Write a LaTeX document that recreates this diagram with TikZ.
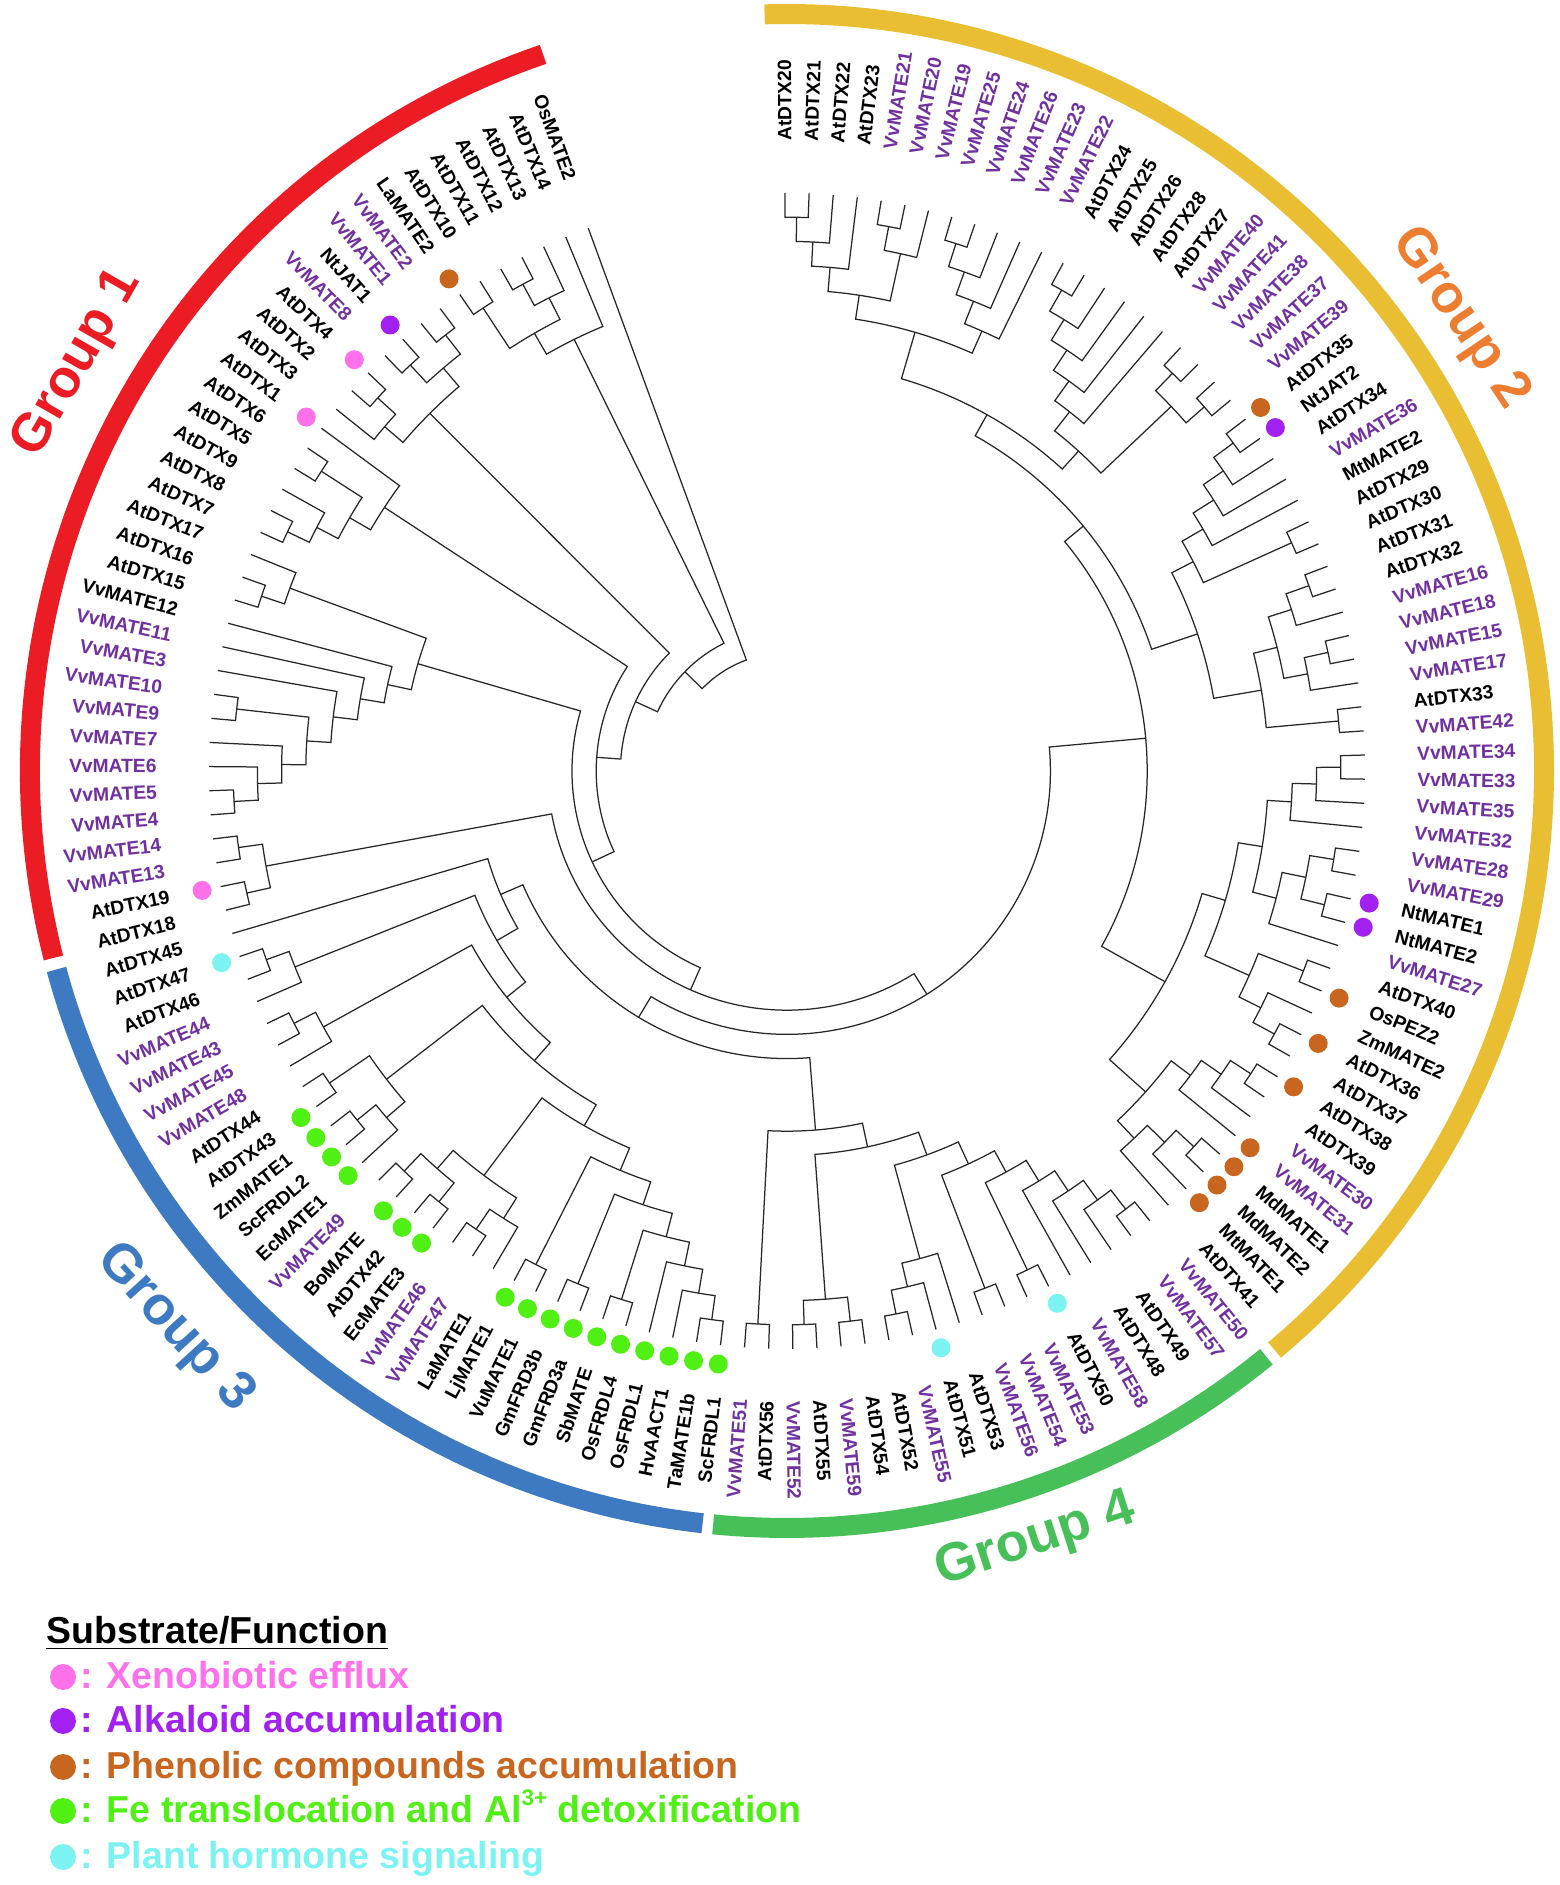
\documentclass[tikz,border=0pt]{standalone}
\usepackage{fontspec}
\setmainfont{Liberation Sans}

\definecolor{grpred}{RGB}{236,28,36}
\definecolor{grpyellow}{RGB}{233,190,50}
\definecolor{grporange}{RGB}{237,125,49}
\definecolor{grpblue}{RGB}{62,122,194}
\definecolor{grpgreen}{RGB}{72,192,90}
\definecolor{vv}{RGB}{112,48,160}
\colorlet{ink}{black}
\definecolor{xeno}{RGB}{255,112,235}
\definecolor{alka}{RGB}{162,32,240}
\definecolor{phen}{RGB}{200,102,32}
\definecolor{iron}{RGB}{80,240,20}
\definecolor{horm}{RGB}{125,242,242}

\begin{document}
\begin{tikzpicture}[x=0.4pt, y=0.4pt,
  branch/.style={line width=0.5pt, draw=black!85},
  leaflab/.style={font=\fontsize{7.7}{8}\selectfont\bfseries, inner sep=0pt},
  ringarc/.style={line width=8pt},
  grplab/.style={font=\fontsize{21.5}{24}\selectfont\bfseries},
  keytext/.style={font=\fontsize{15}{18}\selectfont\bfseries, inner sep=0pt, anchor=base west}]

\newcommand\tipR{578}
\newcommand\stepR{24.2}
\newcommand\labR{630}
\newcommand\dotR{597}
\newcommand\ringR{757}

\useasboundingbox (0,0) rectangle (1559,1885);

\begin{scope}[shift={(787,1114)}]

%% branches: left child i..k, right child k+1..j (children first)
\foreach \i/\k/\j in {
  1/1/2, 1/2/3, 1/3/4, 5/5/6, 5/6/7, 1/4/7,
  8/8/9, 8/9/10, 8/10/11, 8/11/12, 1/7/12,
  13/13/14, 13/14/15, 13/15/16, 13/16/17, 13/17/18,
  19/19/20, 21/21/22, 19/20/22, 13/18/22, 1/12/22,
  23/23/24, 23/24/25, 23/25/26, 23/26/27, 28/28/29, 23/27/29,
  30/30/31, 30/31/32, 33/33/34, 33/34/35, 30/32/35, 36/36/37, 30/35/37, 23/29/37, 1/22/37,
  38/38/39, 38/39/40, 38/40/41, 42/42/43, 44/44/45, 42/43/45, 42/45/46, 38/41/46,
  47/47/48, 50/50/51, 49/49/51, 47/48/51, 38/46/51,
  52/52/53, 52/53/54, 52/54/55, 56/56/57, 56/57/58, 56/58/59, 52/55/59, 38/51/59, 1/37/59,
  60/60/61, 60/61/62, 60/62/63, 60/63/64, 65/65/66, 60/64/66, 67/67/68, 60/66/68,
  71/71/72, 70/70/72, 69/69/72, 60/68/72, 73/73/74, 75/75/76, 73/74/76, 60/72/76, 77/77/78, 60/76/78,
  79/79/80, 79/80/81, 79/81/82, 83/83/84, 79/82/84, 85/85/86, 79/84/86, 87/87/88, 79/86/88,
  90/90/91, 89/89/91, 92/92/93, 94/94/95, 92/93/95, 89/91/95, 79/88/95,
  99/99/100, 97/97/98, 96/96/98, 96/98/100, 79/95/100,
  102/102/103, 101/101/103, 79/100/103,
  105/105/106, 104/104/106, 79/103/106, 79/106/107,
  60/78/107, 1/59/107,
  108/108/109, 110/110/111, 108/109/111, 1/107/111,
  112/112/113, 112/113/114, 112/114/115, 116/116/117, 112/115/117, 112/117/118, 112/118/119, 112/119/120,
  121/121/122, 121/122/123, 112/120/123, 1/111/123,
  124/124/125, 124/125/126, 127/127/128, 124/126/128, 124/128/129, 1/123/129,
  131/131/132, 130/130/132, 133/133/134, 135/135/136, 133/134/136, 130/132/136, 1/129/136,
  137/137/138, 139/139/140, 139/140/141, 137/138/141, 137/141/142, 1/136/142,
  1/142/143}{
  \pgfmathtruncatemacro\kk{\k+1}
  \ifnum\i=\k \edef\attL{\i}\def\hL{0}\else
    \edef\attL{\csname att@\i-\k\endcsname}\edef\hL{\csname hh@\i-\k\endcsname}\fi
  \ifnum\kk=\j \edef\attR{\j}\def\hR{0}\else
    \edef\attR{\csname att@\kk-\j\endcsname}\edef\hR{\csname hh@\kk-\j\endcsname}\fi
  \pgfmathtruncatemacro\hN{max(\hL,\hR)+1}
  \pgfmathsetmacro\attN{(\attL+\attR)/2}
  \expandafter\xdef\csname att@\i-\j\endcsname{\attN}
  \expandafter\xdef\csname hh@\i-\j\endcsname{\hN}
  \pgfmathsetmacro\aL{90.2-(\attL-1)*2.395}
  \pgfmathsetmacro\aR{90.2-(\attR-1)*2.395}
  \pgfmathsetmacro\rN{\tipR-\stepR*\hN}
  \pgfmathsetmacro\rL{\tipR-\stepR*\hL}
  \pgfmathsetmacro\rR{\tipR-\stepR*\hR}
  \draw[branch] (\aL:\rL) -- (\aL:\rN)
    arc[start angle=\aL, end angle=\aR, radius=\rN] -- (\aR:\rR);
}

%% tip labels
\foreach \n/\lab/\lc in {
  1/AtDTX20/ink, 2/AtDTX21/ink, 3/AtDTX22/ink, 4/AtDTX23/ink, 5/VvMATE21/vv,
  6/VvMATE20/vv, 7/VvMATE19/vv, 8/VvMATE25/vv, 9/VvMATE24/vv, 10/VvMATE26/vv,
  11/VvMATE23/vv, 12/VvMATE22/vv, 13/AtDTX24/ink, 14/AtDTX25/ink, 15/AtDTX26/ink,
  16/AtDTX28/ink, 17/AtDTX27/ink, 18/VvMATE40/vv, 19/VvMATE41/vv, 20/VvMATE38/vv,
  21/VvMATE37/vv, 22/VvMATE39/vv, 23/AtDTX35/ink, 24/NtJAT2/ink, 25/AtDTX34/ink,
  26/VvMATE36/vv, 27/MtMATE2/ink, 28/AtDTX29/ink, 29/AtDTX30/ink, 30/AtDTX31/ink,
  31/AtDTX32/ink, 32/VvMATE16/vv, 33/VvMATE18/vv, 34/VvMATE15/vv, 35/VvMATE17/vv,
  36/AtDTX33/ink, 37/VvMATE42/vv, 38/VvMATE34/vv, 39/VvMATE33/vv, 40/VvMATE35/vv,
  41/VvMATE32/vv, 42/VvMATE28/vv, 43/VvMATE29/vv, 44/NtMATE1/ink, 45/NtMATE2/ink,
  46/VvMATE27/vv, 47/AtDTX40/ink, 48/OsPEZ2/ink, 49/ZmMATE2/ink, 50/AtDTX36/ink,
  51/AtDTX37/ink, 52/AtDTX38/ink, 53/AtDTX39/ink, 54/VvMATE30/vv, 55/VvMATE31/vv,
  56/MdMATE1/ink, 57/MdMATE2/ink, 58/MtMATE1/ink, 59/AtDTX41/ink, 60/VvMATE50/vv,
  61/VvMATE57/vv, 62/AtDTX49/ink, 63/AtDTX48/ink, 64/VvMATE58/vv, 65/AtDTX50/ink,
  66/VvMATE53/vv, 67/VvMATE54/vv, 68/VvMATE56/vv, 69/AtDTX53/ink, 70/AtDTX51/ink,
  71/VvMATE55/vv, 72/AtDTX52/ink, 73/AtDTX54/ink, 74/VvMATE59/vv, 75/AtDTX55/ink,
  76/VvMATE52/vv, 77/AtDTX56/ink, 78/VvMATE51/vv, 79/ScFRDL1/ink, 80/TaMATE1b/ink,
  81/HvAACT1/ink, 82/OsFRDL1/ink, 83/OsFRDL4/ink, 84/SbMATE/ink, 85/GmFRD3a/ink,
  86/GmFRD3b/ink, 87/VuMATE1/ink, 88/LjMATE1/ink, 89/LaMATE1/ink, 90/VvMATE47/vv,
  91/VvMATE46/vv, 92/EcMATE3/ink, 93/AtDTX42/ink, 94/BoMATE/ink, 95/VvMATE49/vv,
  96/EcMATE1/ink, 97/ScFRDL2/ink, 98/ZmMATE1/ink, 99/AtDTX43/ink, 100/AtDTX44/ink,
  101/VvMATE48/vv, 102/VvMATE45/vv, 103/VvMATE43/vv, 104/VvMATE44/vv, 105/AtDTX46/ink,
  106/AtDTX47/ink, 107/AtDTX45/ink, 108/AtDTX18/ink, 109/AtDTX19/ink, 110/VvMATE13/vv,
  111/VvMATE14/vv, 112/VvMATE4/vv, 113/VvMATE5/vv, 114/VvMATE6/vv, 115/VvMATE7/vv,
  116/VvMATE9/vv, 117/VvMATE10/vv, 118/VvMATE3/vv, 119/VvMATE11/vv, 120/VvMATE12/ink,
  121/AtDTX15/ink, 122/AtDTX16/ink, 123/AtDTX17/ink, 124/AtDTX7/ink, 125/AtDTX8/ink,
  126/AtDTX9/ink, 127/AtDTX5/ink, 128/AtDTX6/ink, 129/AtDTX1/ink, 130/AtDTX3/ink,
  131/AtDTX2/ink, 132/AtDTX4/ink, 133/VvMATE8/vv, 134/NtJAT1/ink, 135/VvMATE1/vv,
  136/VvMATE2/vv, 137/LaMATE2/ink, 138/AtDTX10/ink, 139/AtDTX11/ink, 140/AtDTX12/ink,
  141/AtDTX13/ink, 142/AtDTX14/ink, 143/OsMATE2/ink}{
  \pgfmathsetmacro\ang{90.2-(\n-1)*2.395}
  \pgfmathtruncatemacro\side{\ang>-90 ? 1 : 0}
  \ifnum\side=1
    \node[leaflab, text=\lc, anchor=west, rotate=\ang] (lab\n) at (\ang:\labR) {\lab};
  \else
    \node[leaflab, text=\lc, anchor=east, rotate=\ang+180] (lab\n) at (\ang:\labR) {\lab};
  \fi
}

%% function dots
\foreach \n/\dc in {109/xeno, 129/xeno, 132/xeno,
  24/alka, 44/alka, 45/alka, 134/alka,
  23/phen, 48/phen, 50/phen, 52/phen, 55/phen, 56/phen, 57/phen, 58/phen, 137/phen,
  79/iron, 80/iron, 81/iron, 82/iron, 83/iron, 84/iron, 85/iron, 86/iron, 87/iron, 88/iron,
  92/iron, 93/iron, 94/iron, 96/iron, 97/iron, 98/iron, 99/iron,
  65/horm, 70/horm, 106/horm}{
  \pgfmathsetmacro\ang{90.2-(\n-1)*2.395}
  \fill[\dc] (\ang:\dotR) circle[radius=9.5];
}

%% group rings
\draw[ringarc, grpred] (108.8:\ringR) arc[start angle=108.8, end angle=194.3, radius=\ringR];
\draw[ringarc, grpblue] (195.2:\ringR) arc[start angle=195.2, end angle=263.6, radius=\ringR];
\draw[ringarc, grpgreen] (264.4:\ringR) arc[start angle=264.4, end angle=309.3, radius=\ringR];
\draw[ringarc, grpyellow] (310.1:\ringR) arc[start angle=310.1, end angle=451.7, radius=\ringR];

\node[grplab, text=grpred, rotate=60.1] (grp1) at (150.1:818) {Group 1};
\node[grplab, text=grporange, rotate=-56.1] (grp2) at (33.9:811) {Group 2};
\node[grplab, text=grpblue, rotate=-47.7] (grp3) at (222.3:828) {Group 3};
\node[grplab, text=grpgreen, rotate=17.9] (grp4) at (-72.1:809) {Group 4};
\end{scope}

%% legend
\node[keytext] (keyhead) at (46,241) {\underline{Substrate/Function}};
\fill[xeno] (63,208) circle[radius=13];
\node[keytext, text=xeno] (keyxeno) at (80,196) {: Xenobiotic efflux};
\fill[alka] (63,164) circle[radius=13];
\node[keytext, text=alka] (keyalka) at (80,152) {: Alkaloid accumulation};
\fill[phen] (63,118) circle[radius=13];
\node[keytext, text=phen] (keyphen) at (80,106) {: Phenolic compounds accumulation};
\fill[iron] (63,74) circle[radius=13];
\node[keytext, text=iron] (keyiron) at (80,62) {: Fe translocation and Al\raisebox{0.9ex}{\fontsize{9}{10}\selectfont 3+} detoxification};
\fill[horm] (63,28) circle[radius=13];
\node[keytext, text=horm] (keyhorm) at (80,16) {: Plant hormone signaling};

\end{tikzpicture}
\end{document}
